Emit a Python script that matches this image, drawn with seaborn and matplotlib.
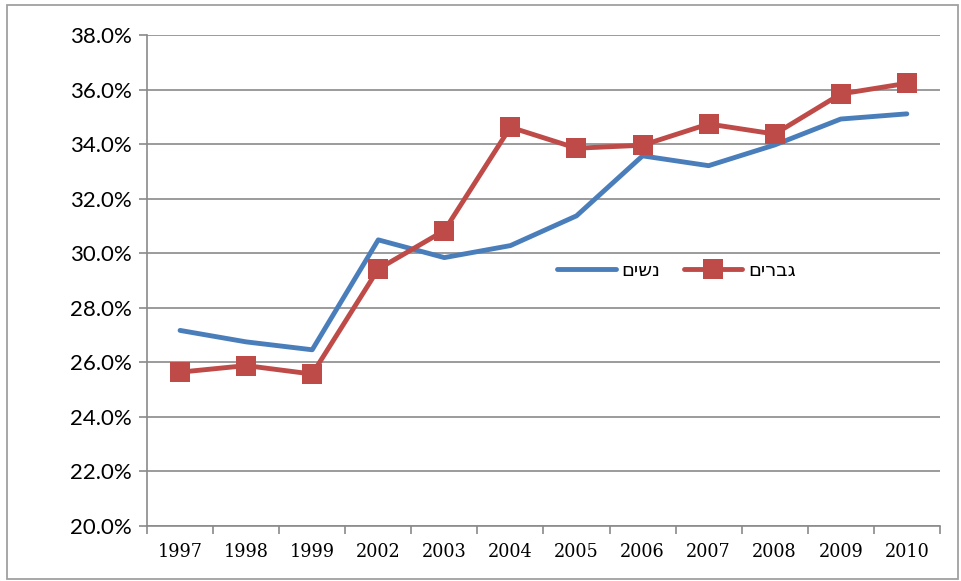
import matplotlib
matplotlib.use("Agg")
import matplotlib.pyplot as plt
import matplotlib.ticker as mticker
from matplotlib.patches import Rectangle
import seaborn as sns
import pandas as pd

years = ["1997", "1998", "1999", "2002", "2003", "2004",
         "2005", "2006", "2007", "2008", "2009", "2010"]
women = [27.17, 26.75, 26.46, 30.49, 29.84, 30.28,
         31.37, 33.57, 33.21, 33.97, 34.92, 35.11]
men = [25.64, 25.88, 25.57, 29.42, 30.83, 34.62,
       33.85, 33.96, 34.74, 34.37, 35.84, 36.23]
label_women = "נשים"
label_men = "גברים"

df = pd.DataFrame({"year": years, "women": women, "men": men})

sns.set_theme(style="white")
plt.rcParams["font.family"] = ["DejaVu Sans"]

fig = plt.figure(figsize=(9.61, 5.81), dpi=100)
ax = fig.add_axes([0.153, 0.0947, 0.825, 0.845])

grid_col = "#8a8a8a"
# matplotlib lays glyphs out left to right, so hebrew is given in visual order
sns.lineplot(data=df, x="year", y="women", ax=ax, color="#4A7EBB", lw=3.5,
             label=label_women[::-1], solid_capstyle="round", sort=False)
sns.lineplot(data=df, x="year", y="men", ax=ax, color="#BE4B48", lw=3.5,
             marker="s", markersize=14, markeredgewidth=0,
             label=label_men[::-1], solid_capstyle="round", sort=False)

ax.set_xlim(-0.5, len(years) - 0.5)
ax.set_ylim(20, 38)
ax.yaxis.set_major_locator(mticker.MultipleLocator(2))
ax.yaxis.set_major_formatter(mticker.FuncFormatter(lambda v, p: f"{v:.1f}%"))
ax.grid(axis="y", color=grid_col, lw=1.2)
ax.set_axisbelow(True)

ax.set_xticks(range(len(years)))
ax.set_xticklabels(years, fontsize=12.7, family="DejaVu Serif", color="black")
ax.set_xticks([i - 0.5 for i in range(len(years) + 1)], minor=True)
ax.tick_params(axis="x", which="major", length=0, pad=12)
ax.tick_params(axis="x", which="minor", length=6, width=1.2, color=grid_col, direction="out", bottom=True)
ax.tick_params(axis="y", length=6, width=1.2, color=grid_col, direction="out", left=True, pad=5)
for t in ax.get_yticklabels():
    t.set_family("Lato")
    t.set_fontsize(16)
    t.set_color("black")

ax.set_xlabel("")
ax.set_ylabel("")
for side in ["top", "right"]:
    ax.spines[side].set_visible(False)
for side in ["left", "bottom"]:
    ax.spines[side].set_color(grid_col)
    ax.spines[side].set_linewidth(1.2)

leg = ax.legend(loc="center", bbox_to_anchor=(0.668, 0.52), ncol=2, frameon=False,
                fontsize=14, handlelength=3.0, handletextpad=0.3, columnspacing=1.2)
for t in leg.get_texts():
    t.set_color("black")

fig.patches.append(Rectangle((0.0073, 0.0034), 0.9896, 0.988, transform=fig.transFigure,
                             fill=False, edgecolor="#a0a0a0", lw=1.3))

fig.savefig("out.png", dpi=100)
